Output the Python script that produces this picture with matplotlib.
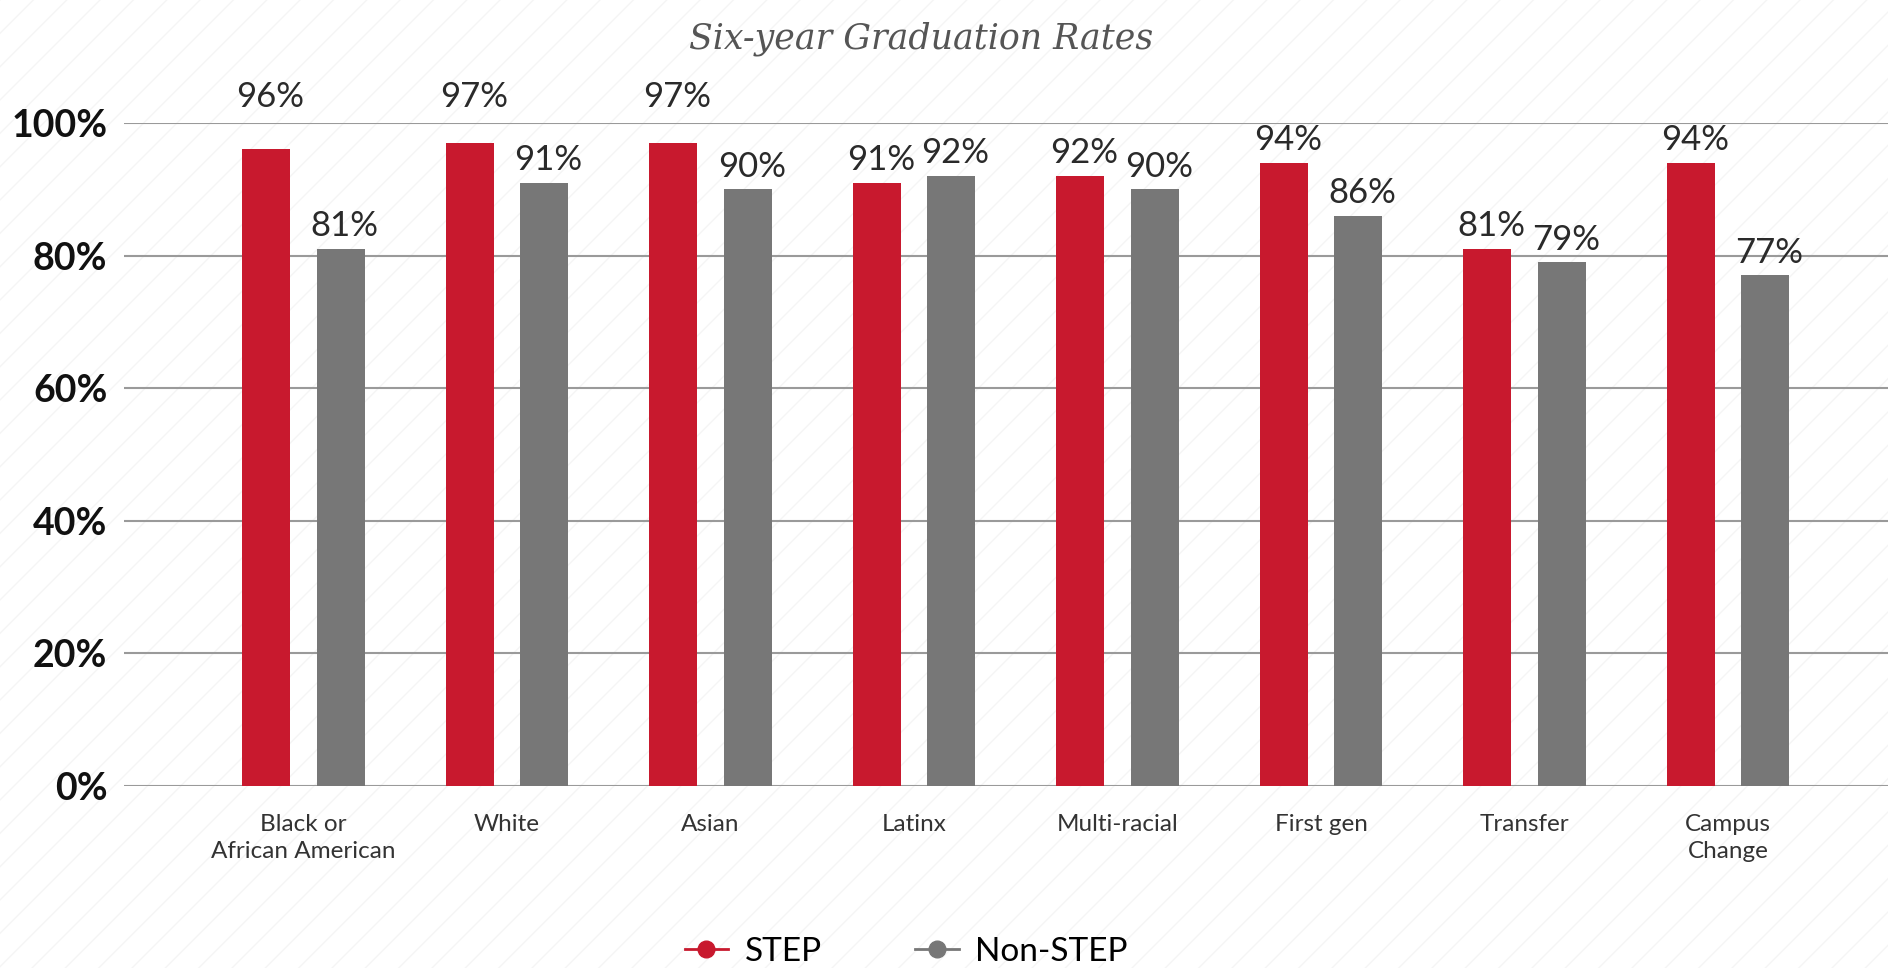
import matplotlib
matplotlib.use("Agg")
import matplotlib.pyplot as plt
import numpy as np
from matplotlib.patches import Rectangle
from matplotlib.lines import Line2D

categories = ["Black or\nAfrican American", "White", "Asian", "Latinx",
              "Multi-racial", "First gen", "Transfer", "Campus\nChange"]
step = [96, 97, 97, 91, 92, 94, 81, 94]
non_step = [81, 91, 90, 92, 90, 86, 79, 77]
y_ticks = [0, 20, 40, 60, 80, 100]

RED = "#c8192e"
GRAY = "#777777"
TEXT = "#2a2a2a"

plt.rcParams["font.family"] = ["Lato", "DejaVu Sans"]

fig = plt.figure(figsize=(18.88, 9.68), dpi=100)

# faint diagonal stripes in the background
bg = Rectangle((0, 0), 1, 1, transform=fig.transFigure, facecolor="white",
               edgecolor="#f5f5f5", hatch="/", linewidth=0, zorder=-10)
fig.patches.append(bg)

ax = fig.add_axes([0.0657, 0.188, 0.9343, 0.685])
ax.patch.set_alpha(0)

x = np.arange(len(categories))
w = 0.237
off = 0.183
ax.bar(x - off, step, w, color=RED, zorder=3)
ax.bar(x + off, non_step, w, color=GRAY, zorder=3)

for xi, v in zip(x, step):
    y = 101.5 if v >= 95 else v + 1.0
    ax.text(xi - off + 0.02, y, f"{v}%", ha="center", va="bottom",
            fontsize=25, color=TEXT)
for xi, v in zip(x, non_step):
    ax.text(xi + off + 0.02, v + 1.0, f"{v}%", ha="center", va="bottom",
            fontsize=25, color=TEXT)

ax.set_xlim(-0.882, 7.786)
ax.set_ylim(0, 100)
ax.set_yticks(y_ticks)
ax.set_yticklabels([f"{t}%" for t in y_ticks], fontsize=27, fontweight="bold",
                   color="#111111")
ax.set_xticks(x)
ax.set_xticklabels(categories, fontsize=17.5, color="#333333", linespacing=1.35)
ax.tick_params(axis="both", length=0)
ax.tick_params(axis="x", pad=20)
ax.tick_params(axis="y", pad=12)
ax.yaxis.grid(True, color="#9a9a9a", linewidth=1.5)
ax.set_axisbelow(True)
for s in ax.spines.values():
    s.set_visible(False)

fig.text(0.488, 0.978, "Six-year Graduation Rates", ha="center", va="top",
         fontsize=25, style="italic", family="DejaVu Serif", color="#555555")

handles = [
    Line2D([0], [0], color=RED, marker="o", markersize=12, linewidth=2),
    Line2D([0], [0], color=GRAY, marker="o", markersize=12, linewidth=2),
]
fig.legend(handles, ["STEP", "Non-STEP"], loc="lower center",
           bbox_to_anchor=(0.48, -0.03), ncol=2, frameon=False,
           fontsize=24, handlelength=1.3, columnspacing=2.8, handletextpad=0.5)

fig.savefig("out.png", dpi=100)
